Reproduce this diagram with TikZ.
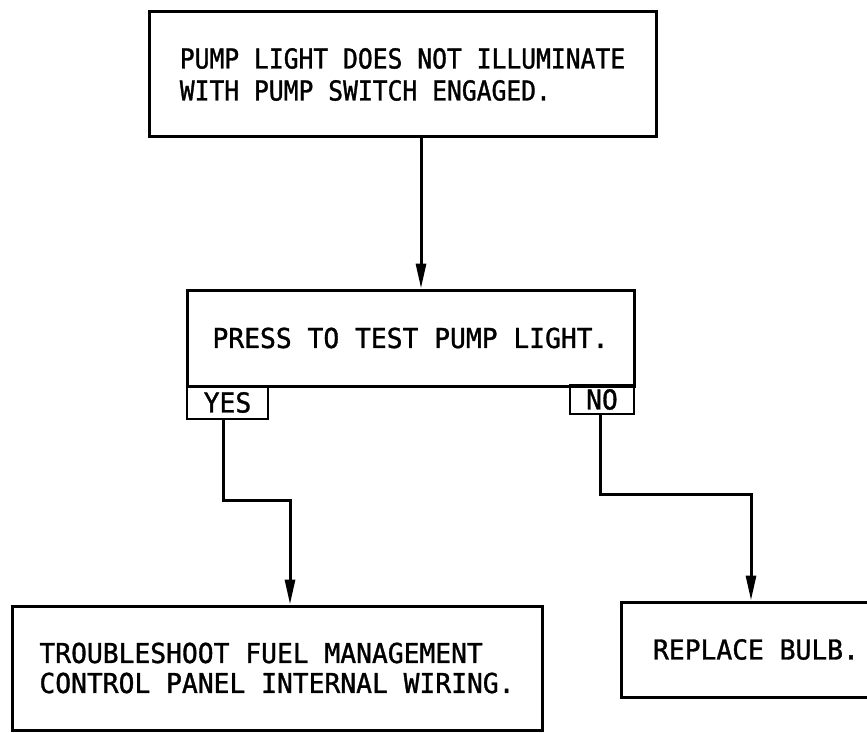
\documentclass[tikz,border=0pt]{standalone}
\usepackage{fontspec}
\usetikzlibrary{arrows.meta}
\newfontfamily\boxfont[FakeStretch=0.96, FakeBold=1.2]{DejaVu Sans Mono}
\newfontfamily\topfont[FakeStretch=0.90, FakeBold=1.2]{DejaVu Sans Mono}
\begin{document}
\begin{tikzpicture}[x=1pt,y=-1pt,
  box/.style={draw, line width=3pt, rectangle, inner sep=0pt, align=left,
    font=\boxfont\fontsize{27.4}{30}\selectfont},
  tag/.style={draw, line width=2.6pt, rectangle, inner sep=0pt,
    font=\boxfont\fontsize{27.4}{30}\selectfont},
  flow/.style={line width=3pt, -{Triangle[length=25pt,width=10pt]}}]
\clip (0,0) rectangle (867,733);
\fill[white] (0,0) rectangle (867,733);

\node[box, minimum width=507pt, minimum height=125pt,
  font=\topfont\fontsize{27.4}{32}\selectfont] (top) at (402.5,74.5)
  {PUMP LIGHT DOES NOT ILLUMINATE\\WITH PUMP SWITCH ENGAGED.};
\node[box, minimum width=447pt, minimum height=96pt] (mid) at (410.5,338)
  {PRESS TO TEST PUMP LIGHT.};
\node[tag, minimum width=81pt, minimum height=33pt] (yes) at (227.5,402.5) {YES};
\node[tag, minimum width=64pt, minimum height=29pt] (no) at (602,399.5) {NO};
\node[box, minimum width=530pt, minimum height=124pt] (bl) at (277,668)
  {TROUBLESHOOT FUEL MANAGEMENT\\CONTROL PANEL INTERNAL WIRING.};
\node[box, minimum width=270pt, minimum height=95pt] (rb) at (756,649.5)
  {REPLACE BULB.};

\coordinate (c1) at (421,200);
\coordinate (y1) at (223,500);
\coordinate (y2) at (290,500);
\coordinate (n1) at (600,494);
\coordinate (n2) at (751,494);

\draw[flow] (c1 |- top.south) -- (c1 |- mid.north);
\draw[flow] (y1 |- yes.south) -- (y1) -- (y2) -- (y2 |- bl.north);
\draw[flow] (n1 |- no.south) -- (n1) -- (n2) -- (n2 |- rb.north);
\end{tikzpicture}
\end{document}
